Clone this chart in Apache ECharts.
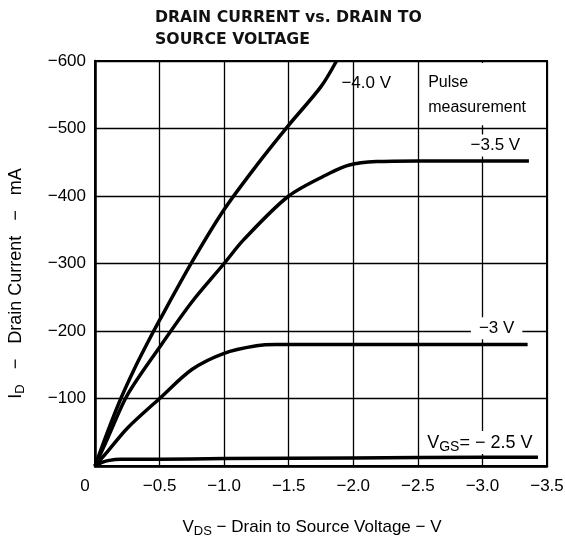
<!DOCTYPE html>
<html><head><meta charset="utf-8">
<script src="https://cdn.jsdelivr.net/npm/echarts@6/dist/echarts.min.js"></script>
<style>html,body{margin:0;padding:0;background:#fff}#c{width:565px;height:537px}</style>
</head><body><div id="c"></div>
<script>
// Drain current (mA) vs drain-to-source voltage (V), negative values as in the datasheet
const vds40 = [0, -0.1, -0.2, -0.3, -0.4, -0.5, -0.75, -1.0, -1.25, -1.5, -1.75, -1.87];
const id40  = [0, -52, -100, -142, -180, -216, -302, -380, -445, -505, -562, -600];

const vds35 = [0, -0.1, -0.25, -0.5, -0.75, -1.0, -1.15, -1.5, -1.82, -1.97, -2.18, -2.5, -3.0, -3.36];
const id35  = [0, -42, -105, -176, -243, -300, -335, -400, -434, -446, -451, -452, -452, -452];

const vds30 = [0, -0.1, -0.25, -0.5, -0.75, -1.0, -1.25, -1.4, -2.0, -3.0, -3.35];
const id30  = [0, -22, -56, -100, -143, -167, -178, -180, -180, -180, -180];

const vds25 = [0, -0.05, -0.1, -0.2, -0.5, -1.0, -2.0, -3.0, -3.43];
const id25  = [0, -5, -8, -10, -10, -11, -12, -13, -13];

const xMin = -3.5, xMax = 0, xStep = 0.5;
const yMin = -600, yMax = 0, yStep = 100;

const titleText = 'DRAIN CURRENT vs. DRAIN TO\nSOURCE VOLTAGE';

function pairs(xs, ys) { return xs.map((x, i) => [x, ys[i]]); }

const font = 'Liberation Sans, Arial, sans-serif';
const lineStyle = { color: '#000', width: 3.5 };

const chart = echarts.init(document.getElementById('c'), null, { renderer: 'canvas' });
chart.setOption({
  animation: false,
  backgroundColor: '#fff',
  title: {
    text: titleText,
    left: 155, top: 7, padding: 0,
    textStyle: { fontFamily: 'DejaVu Sans', fontWeight: 'bold', fontSize: 15.7, lineHeight: 22, color: '#111' }
  },
  grid: { left: 95, right: 18, top: 61, bottom: 71, outerBoundsMode: 'none', containLabel: false, show: true, borderColor: '#000', borderWidth: 2, backgroundColor: 'transparent' },
  xAxis: {
    type: 'value', min: xMin, max: xMax, interval: xStep, inverse: true,
    axisLine: { show: true, onZero: false, lineStyle: { color: '#000', width: 2.5 } },
    axisTick: { show: false },
    splitLine: { show: true, lineStyle: { color: '#000', width: 1.3 } },
    axisLabel: {
      margin: 12, color: '#000', fontFamily: font, fontSize: 17,
      formatter: v => v === 0 ? '{o|0}' : '\u2212' + Math.abs(v).toFixed(1),
      rich: { o: { fontFamily: font, fontSize: 17, color: '#000', padding: [0, 20, 0, 0] } }
    },
    name: '{v|V}{s|DS}{t| \u2212 Drain to Source Voltage \u2212 V}',
    nameLocation: 'middle', nameGap: 51,
    nameTextStyle: {
      padding: [0, 18, 0, 0],
      rich: {
        v: { fontFamily: font, fontSize: 17, color: '#000' },
        s: { fontFamily: font, fontSize: 13, color: '#000', padding: [8, 0, 0, 0] },
        t: { fontFamily: font, fontSize: 17, color: '#000' }
      }
    }
  },
  yAxis: {
    type: 'value', min: yMin, max: yMax, interval: yStep, inverse: true,
    axisLine: { show: true, onZero: false, lineStyle: { color: '#000', width: 2.5 } },
    axisTick: { show: false },
    splitLine: { show: true, lineStyle: { color: '#000', width: 1.3 } },
    axisLabel: {
      margin: 9, color: '#000', fontFamily: font, fontSize: 17,
      formatter: v => v === 0 ? '' : '\u2212' + Math.abs(v)
    },
    name: '{i|I}{s|D}{t|   \u2212   Drain Current   \u2212   mA}',
    nameLocation: 'middle', nameGap: 68, nameRotate: 90,
    nameTextStyle: {
      padding: [0, 40, 0, 0],
      rich: {
        i: { fontFamily: font, fontSize: 18, color: '#000' },
        s: { fontFamily: font, fontSize: 13, color: '#000', padding: [8, 0, 0, 0] },
        t: { fontFamily: font, fontSize: 18, color: '#000' }
      }
    }
  },
  series: [
    { type: 'line', data: pairs(vds40, id40), showSymbol: false, smooth: 0.3, lineStyle, z: 3,
      markPoint: { symbol: 'rect', symbolSize: 0, data: [
        { coord: [-2.10, -567], label: { show: true, position: 'inside', formatter: '\u22124.0 V', color: '#000', fontFamily: font, fontSize: 17 } },
        { coord: [-2.58, -550], label: { show: true, position: 'inside', align: 'left', formatter: 'Pulse\nmeasurement', lineHeight: 25, color: '#000', fontFamily: font, fontSize: 16 } }
      ] },
      markArea: { silent: true, itemStyle: { color: '#fff', opacity: 1 }, data: [[{ coord: [-2.53, -505] }, { coord: [-3.47, -597] }]] }
    },
    { type: 'line', data: pairs(vds35, id35), showSymbol: false, smooth: 0.3, lineStyle, z: 3,
      markPoint: { symbol: 'rect', symbolSize: 0, data: [
        { coord: [-3.10, -475], label: { show: true, position: 'inside', formatter: '\u22123.5 V', color: '#000', fontFamily: font, fontSize: 17, backgroundColor: '#fff', padding: [3, 4, 2, 4] } }
      ] }
    },
    { type: 'line', data: pairs(vds30, id30), showSymbol: false, smooth: 0.3, lineStyle, z: 3,
      markPoint: { symbol: 'rect', symbolSize: 0, data: [
        { coord: [-3.11, -204], label: { show: true, position: 'inside', formatter: '\u22123 V', color: '#000', fontFamily: font, fontSize: 17, backgroundColor: '#fff', padding: [3, 8, 2, 8] } }
      ] }
    },
    { type: 'line', data: pairs(vds25, id25), showSymbol: false, smooth: 0.3, lineStyle, z: 3,
      markPoint: { symbol: 'rect', symbolSize: 0, data: [
        { coord: [-2.98, -35], label: { show: true, position: 'inside', formatter: '{v|V}{s|GS}{t|= \u2212 2.5 V}', backgroundColor: '#fff', padding: [1, 3, 0, 3],
          rich: {
            v: { fontFamily: font, fontSize: 18, color: '#000' },
            s: { fontFamily: font, fontSize: 14, color: '#000', padding: [8, 0, 0, 0] },
            t: { fontFamily: font, fontSize: 18, color: '#000' }
          } } }
      ] }
    }
  ]
});
</script>
</body></html>
